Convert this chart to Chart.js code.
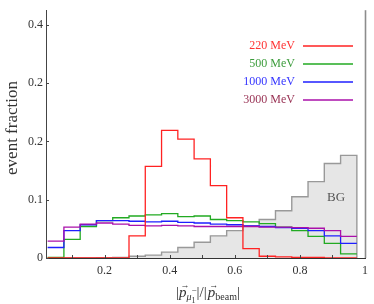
<!DOCTYPE html>
<html>
<head>
<meta charset="utf-8">
<script src="https://cdn.jsdelivr.net/npm/chart.js@4"></script>
<style>
  html, body { margin: 0; padding: 0; background: #fff; }
  #wrap { width: 374px; height: 304px; }
</style>
</head>
<body>
<div id="wrap"><canvas id="chart" width="374" height="304"></canvas></div>
<script>
// bin edges (0.05 wide bins)
const binEdges = [0.025, 0.075, 0.125, 0.175, 0.225, 0.275, 0.325, 0.375, 0.425, 0.475,
                  0.525, 0.575, 0.625, 0.675, 0.725, 0.775, 0.825, 0.875, 0.925, 0.975];

// event fraction per bin
const mev220  = [0, 0, 0, 0, 0, 0.038, 0.157, 0.219, 0.204, 0.170,
                 0.124, 0.069, 0.016, 0.003, 0.002, 0.001, 0.001, 0, 0];
const mev500  = [0.001, 0.032, 0.054, 0.064, 0.069, 0.072, 0.074, 0.076, 0.071, 0.072,
                 0.066, 0.064, 0.062, 0.059, 0.053, 0.047, 0.037, 0.025, 0.007];
const mev1000 = [0.018, 0.047, 0.057, 0.064, 0.064, 0.063, 0.062, 0.063, 0.061, 0.060,
                 0.058, 0.057, 0.055, 0.054, 0.052, 0.051, 0.047, 0.038, 0.025];
const mev3000 = [0.029, 0.053, 0.058, 0.060, 0.058, 0.056, 0.055, 0.056, 0.055, 0.054,
                 0.054, 0.054, 0.054, 0.053, 0.053, 0.052, 0.051, 0.047, 0.037];
const bg      = [0, 0, 0, 0.0005, 0.001, 0.003, 0.005, 0.010, 0.018, 0.027,
                 0.038, 0.047, 0.055, 0.066, 0.081, 0.105, 0.131, 0.162, 0.176];

const legendLabels = ["220 MeV", "500 MeV", "1000 MeV", "3000 MeV"];
const lineColors = ["#ff2222", "#22aa22", "#1f1fff", "#aa10aa"];
const textColors = ["#ff3333", "#3c9c3c", "#3535ff", "#993355"];

const yTickValues = [0, 0.1, 0.2, 0.3, 0.4];
const yTickLabels = ["0", "0.1", "0.2", "0.2", "0.4"];
const xTickValues = [0.2, 0.4, 0.6, 0.8, 1];
const xTickLabels = ["0.2", "0.4", "0.6", "0.8", "1"];
const xMarkTicks = [0.1, 0.2, 0.3, 0.4, 0.5, 0.6, 0.7, 0.8, 0.9];

const SERIF = "'Liberation Serif', 'DejaVu Serif', serif";

function steps(vals, dropToZero) {
  let pts = vals.map((v, i) => ({x: binEdges[i], y: v}));
  pts.push({x: binEdges[vals.length], y: dropToZero ? 0 : vals[vals.length - 1]});
  return pts;
}

function lineSet(vals, color, order) {
  return {
    data: steps(vals, false),
    borderColor: color,
    borderWidth: 1.3,
    pointRadius: 0,
    stepped: true,
    fill: false,
    order: order
  };
}

const decorations = {
  id: "decorations",
  afterDatasetsDraw(chart) {
    const ctx = chart.ctx;
    const xs = chart.scales.x, ys = chart.scales.y;
    const a = chart.chartArea;
    ctx.save();
    // inward tick marks
    ctx.strokeStyle = "#444";
    ctx.lineWidth = 1;
    ctx.beginPath();
    yTickValues.forEach(v => {
      let y = Math.round(ys.getPixelForValue(v)) + 0.5;
      ctx.moveTo(a.left, y); ctx.lineTo(a.left + 3, y);
    });
    xMarkTicks.forEach(v => {
      let x = Math.round(xs.getPixelForValue(v)) + 0.5;
      ctx.moveTo(x, a.bottom); ctx.lineTo(x, a.bottom - 3);
    });
    ctx.stroke();
    // right frame
    ctx.strokeStyle = "#8c8c8c";
    ctx.lineWidth = 1.6;
    ctx.beginPath();
    ctx.moveTo(a.right + 0.5, a.top); ctx.lineTo(a.right + 0.5, a.bottom);
    ctx.stroke();

    // legend
    ctx.font = "12px " + SERIF;
    ctx.textAlign = "right";
    ctx.textBaseline = "middle";
    legendLabels.forEach((lab, i) => {
      let y = 46 + i * 18;
      ctx.fillStyle = textColors[i];
      ctx.fillText(lab, 295, y);
      ctx.strokeStyle = lineColors[i];
      ctx.lineWidth = 1.3;
      ctx.beginPath();
      ctx.moveTo(303, y); ctx.lineTo(353, y);
      ctx.stroke();
    });

    // BG label
    ctx.fillStyle = "#555";
    ctx.font = "13px " + SERIF;
    ctx.textAlign = "center";
    ctx.fillText("BG", 336, 198);

    // y title
    ctx.save();
    ctx.translate(13, 128);
    ctx.rotate(-Math.PI / 2);
    ctx.fillStyle = "#333";
    ctx.font = "17px " + SERIF;
    ctx.textAlign = "center";
    ctx.textBaseline = "middle";
    ctx.fillText("event fraction", 0, 0);
    ctx.restore();

    // x title: |p_{mu_1^-}|/|p_beam|
    const base = 297;
    const pieces = [
      {t: "|", f: "15px " + SERIF, dy: 0},
      {t: "p", f: "italic 15px " + SERIF, dy: 0, arrow: true},
      {t: "\u03bc", f: "italic 10px " + SERIF, dy: 3},
      {t: "1", f: "8px " + SERIF, dy: 6, sup: "\u2212"},
      {t: "|/|", f: "15px " + SERIF, dy: 0, gap: 2},
      {t: "p", f: "italic 15px " + SERIF, dy: 0, arrow: true},
      {t: "beam", f: "10px " + SERIF, dy: 3},
      {t: "|", f: "15px " + SERIF, dy: 0}
    ];
    let total = 0;
    pieces.forEach(p => { ctx.font = p.f; p.w = ctx.measureText(p.t).width + (p.gap || 0); total += p.w; });
    let x = 208 - total / 2;
    ctx.fillStyle = "#333";
    ctx.textAlign = "left";
    ctx.textBaseline = "alphabetic";
    pieces.forEach(p => {
      ctx.font = p.f;
      ctx.fillText(p.t, x + (p.gap ? p.gap / 2 : 0), base + p.dy);
      if (p.arrow) {
        ctx.font = "9px " + SERIF;
        ctx.fillText("\u2192", x + 1.5, base - 9);
      }
      if (p.sup) {
        ctx.font = "9px " + SERIF;
        ctx.fillText(p.sup, x, base - 4);
      }
      x += p.w;
    });
    ctx.restore();
  }
};

new Chart(document.getElementById("chart"), {
  type: "line",
  data: {
    datasets: [
      lineSet(mev220, lineColors[0], 0),
      lineSet(mev3000, lineColors[3], 1),
      lineSet(mev1000, lineColors[2], 2),
      lineSet(mev500, lineColors[1], 3),
      {
        data: steps(bg, true),
        borderColor: "#999999",
        backgroundColor: "#e6e6e6",
        borderWidth: 1.4,
        pointRadius: 0,
        stepped: true,
        fill: "origin",
        order: 10
      }
    ]
  },
  options: {
    responsive: false,
    animation: false,
    devicePixelRatio: 1,
    layout: {padding: {left: 0, right: 4, top: 0, bottom: 0}},
    plugins: {legend: {display: false}, tooltip: {enabled: false}},
    scales: {
      x: {
        type: "linear",
        min: 0.02,
        max: 1,
        afterFit: s => { s.height = 46; },
        afterBuildTicks: s => { s.ticks = xTickValues.map(v => ({value: v})); },
        ticks: {
          autoSkip: false,
          maxRotation: 0,
          padding: 6,
          color: "#333",
          font: {family: SERIF, size: 12},
          callback: (v, i) => xTickLabels[i]
        },
        grid: {drawOnChartArea: false, drawTicks: false},
        border: {display: true, color: "#333", width: 1}
      },
      y: {
        min: 0,
        max: 0.425,
        afterFit: s => { s.width = 46; },
        afterBuildTicks: s => { s.ticks = yTickValues.map(v => ({value: v})); },
        ticks: {
          autoSkip: false,
          padding: 3,
          color: "#333",
          font: {family: SERIF, size: 12},
          callback: (v, i) => yTickLabels[i]
        },
        grid: {drawOnChartArea: false, drawTicks: false},
        border: {display: true, color: "#444", width: 1}
      }
    }
  },
  plugins: [decorations]
});
</script>
</body>
</html>
